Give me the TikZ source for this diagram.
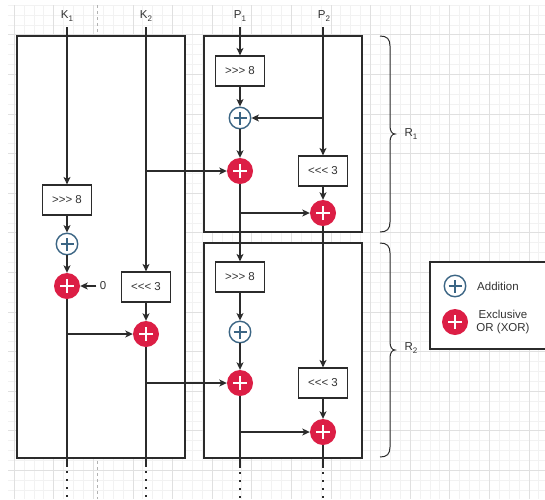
\documentclass[tikz,border=0pt]{standalone}
\usepackage{fontspec}
\setmainfont{Liberation Sans}[Ligatures=TeXOff]
\usetikzlibrary{arrows.meta,calc}
\definecolor{xorred}{HTML}{DC1E45}
\definecolor{addblue}{HTML}{3B6584}
\definecolor{ln}{HTML}{2B2B2B}
\definecolor{txt}{HTML}{333333}
\definecolor{gmin}{HTML}{F2F2F2}
\definecolor{gmaj}{HTML}{E0E0E0}
\newcommand{\lbl}[2]{#1\raisebox{-2.5pt}{\fontsize{8}{8}\selectfont #2}}
\begin{document}
\begin{tikzpicture}[x=1pt,y=-1pt,
  every node/.style={font=\fontsize{11.5}{13.5}\selectfont, text=txt},
  frame/.style={draw=ln, line width=1.4pt, fill=white, inner sep=0pt},
  opbox/.style={draw=ln, line width=1.2pt, fill=white, minimum width=49pt, minimum height=30pt, inner sep=0pt},
  xorc/.style={circle, fill=xorred, minimum size=26pt, inner sep=0pt,
    path picture={\draw[white, line width=1.3pt]
      ([xshift=-7pt]path picture bounding box.center) -- ([xshift=7pt]path picture bounding box.center)
      ([yshift=-7pt]path picture bounding box.center) -- ([yshift=7pt]path picture bounding box.center);}},
  addc/.style={circle, draw=addblue, line width=1.4pt, fill=white, minimum size=21.5pt, inner sep=0pt,
    path picture={\draw[addblue, line width=1.3pt]
      ([xshift=-6.5pt]path picture bounding box.center) -- ([xshift=6.5pt]path picture bounding box.center)
      ([yshift=-6.5pt]path picture bounding box.center) -- ([yshift=6.5pt]path picture bounding box.center);}},
  conn/.style={draw=ln, line width=1.1pt},
  arr/.style={conn, -{Stealth[length=7.5pt,width=7pt,inset=2pt]}},
  dots/.style={draw=ln, line width=2pt, dash pattern=on 2pt off 6pt},
  bracestyle/.style={draw=ln, line width=1pt},
]
\useasboundingbox (0,0) rectangle (545,499);
% grid
\foreach \i in {1,...,54} {\pgfmathsetmacro\xx{4.2+9.9*\i}\draw[gmin, line width=0.8pt] (\xx,5) -- (\xx,499);}
\foreach \j in {0,...,50} {\pgfmathsetmacro\yy{5.1+9.9*\j}\draw[gmin, line width=0.8pt] (8,\yy) -- (545,\yy);}
\foreach \i in {0,...,13} {\pgfmathsetmacro\xx{14.1+39.6*\i}\draw[gmaj, line width=0.8pt] (\xx,5) -- (\xx,499);}
\foreach \j in {0,...,12} {\pgfmathsetmacro\yy{34.8+39.6*\j}\draw[gmaj, line width=0.8pt] (8,\yy) -- (545,\yy);}
\draw[gray!60, line width=0.8pt, dash pattern=on 3pt off 3pt] (97,5) -- (97,499);

% frames
\node[frame, minimum width=168pt, minimum height=422pt] (lbox) at (101,247) {};
\node[frame, minimum width=158pt, minimum height=196pt] (r1box) at (283,134) {};
\node[frame, minimum width=158pt, minimum height=215pt] (r2box) at (283,350.5) {};
\node[frame, minimum width=120pt, minimum height=87pt] (leg) at (490,305.5) {};

% top labels
\node (k1) at (67,16) {\lbl{K}{1}};
\node (k2) at (146,16) {\lbl{K}{2}};
\node (p1) at (240,16) {\lbl{P}{1}};
\node (p2) at (324,16) {\lbl{P}{2}};
\coordinate (k1s) at (67,27);
\coordinate (k2s) at (146,27);
\coordinate (p1s) at (240,27);
\coordinate (p2s) at (323,27);

% left (key schedule) column
\node[opbox] (lsh8) at (67,200) {>>> 8};
\node[addc] (ladd) at (67,244) {};
\node[xorc] (lxor) at (67,286) {};
\node (zero) at (103,286) {0};
\node[opbox] (lsh3) at (146,287) {<<< 3};
\node[xorc] (lxor2) at (146,334) {};
\coordinate (k1e) at (67,467);
\coordinate (k2e) at (146,467);

% round 1
\node[opbox] (ash8) at (240,71) {>>> 8};
\node[addc] (aadd) at (240,118) {};
\node[xorc] (axor) at (240,171) {};
\node[opbox] (ash3) at (323,171) {<<< 3};
\node[xorc] (axor2) at (323,213) {};

% round 2
\node[opbox] (bsh8) at (240,277) {>>> 8};
\node[addc] (badd) at (240,332) {};
\node[xorc] (bxor) at (240,383) {};
\node[opbox] (bsh3) at (323,383) {<<< 3};
\node[xorc] (bxor2) at (323,432) {};
\coordinate (p1e) at (240,468);
\coordinate (p2e) at (323,468);

% connectors: key side
\draw[arr] (k1s) -- (lsh8.north);
\draw[arr] (lsh8.south) -- (ladd.north);
\draw[arr] (ladd.south) -- (lxor.north);
\draw[arr] (zero.west) -- (lxor.east);
\draw[conn] (lxor.south) -- (k1e);
\draw[arr] (k1e |- lxor2.west) -- (lxor2.west);
\draw[arr] (k2s) -- (lsh3.north);
\draw[arr] (lsh3.south) -- (lxor2.north);
\draw[conn] (lxor2.south) -- (k2e);
\draw[arr] (k2s |- axor.west) -- (axor.west);
\draw[arr] (k2e |- bxor.west) -- (bxor.west);

% connectors: round 1
\draw[arr] (p1s) -- (ash8.north);
\draw[arr] (ash8.south) -- (aadd.north);
\draw[arr] (aadd.south) -- (axor.north);
\draw[arr] (p2s) -- (ash3.north);
\draw[arr] (p2s |- aadd.east) -- (aadd.east);
\draw[arr] (ash3.south) -- (axor2.north);
\draw[arr] (axor.south) -- (bsh8.north);
\draw[arr] (axor.south |- axor2.west) -- (axor2.west);
\draw[arr] (axor2.south) -- (bsh3.north);

% connectors: round 2
\draw[arr] (bsh8.south) -- (badd.north);
\draw[arr] (badd.south) -- (bxor.north);
\draw[conn] (bxor.south) -- (p1e);
\draw[arr] (p1e |- bxor2.west) -- (bxor2.west);
\draw[arr] (bsh3.south) -- (bxor2.north);
\draw[conn] (bxor2.south) -- (p2e);

% continuation dots
\draw[dots] ([yshift=-4pt]k1e) -- (67,499);
\draw[dots] ([yshift=-4pt]k2e) -- (146,499);
\draw[dots] ([yshift=-4pt]p1e) -- (240,499);
\draw[dots] ([yshift=-4pt]p2e) -- (323,499);

% braces
\draw[bracestyle] (380,36) .. controls (387,36) and (390,39) .. (390,46) -- (390,126)
  .. controls (390,131) and (392,134) .. (395,134)
  .. controls (392,134) and (390,137) .. (390,142) -- (390,222)
  .. controls (390,229) and (387,232) .. (380,232);
\node[anchor=west] (r1) at (401,134) {\lbl{R}{1}};
\draw[bracestyle] (380,243) .. controls (387,243) and (390,246) .. (390,253) -- (390,342)
  .. controls (390,347) and (392,350) .. (395,350)
  .. controls (392,350) and (390,353) .. (390,358) -- (390,447)
  .. controls (390,454) and (387,457) .. (380,457);
\node[anchor=west] (r2) at (401,348) {\lbl{R}{2}};

% legend
\node[addc] (legadd) at (455,286) {};
\node (legaddt) at (498,286) {Addition};
\node[xorc] (legxor) at (455,322) {};
\node[align=center, font=\fontsize{11.5}{13}\selectfont] (legxort) at (503,322) {Exclusive\\OR (XOR)};
\end{tikzpicture}
\end{document}
